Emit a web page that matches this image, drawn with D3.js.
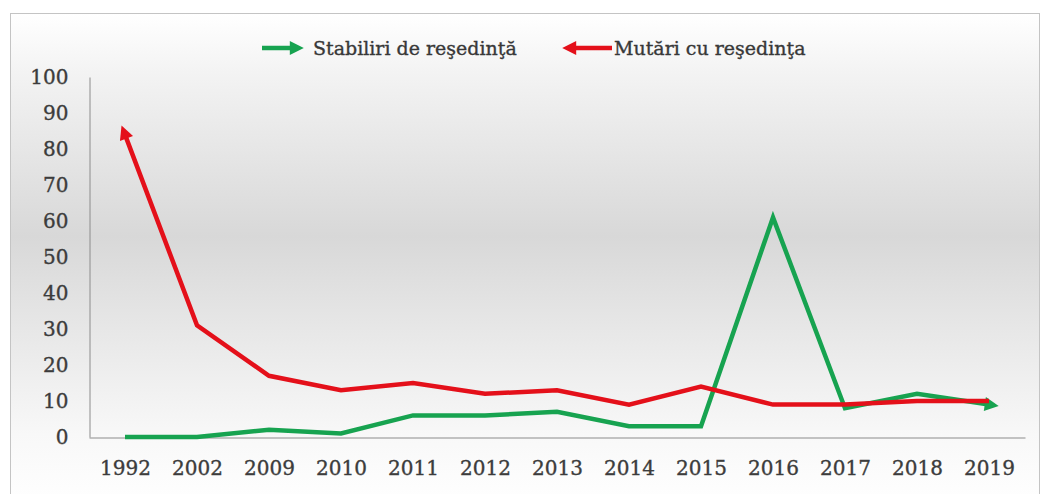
<!DOCTYPE html>
<html>
<head>
<meta charset="utf-8">
<script src="https://cdn.jsdelivr.net/npm/d3@7"></script>
<style>
  body { margin: 0; background: #fff; }
  .axis text { font-family: "DejaVu Serif", serif; fill: #3c3c3c; stroke: #3c3c3c; stroke-width: 0.35px; }
  .axis path { stroke: #8c8c8c; }
  .legend text { font-family: "DejaVu Serif", serif; fill: #383838; stroke: #383838; stroke-width: 0.35px; font-size: 19px; }
</style>
</head>
<body>
<script>
(function(){

    //chart data
    var years = ["1992", "2002", "2009", "2010", "2011", "2012", "2013", "2014", "2015", "2016", "2017", "2018", "2019"];
    var stabiliri = [0, 0, 2, 1, 6, 6, 7, 3, 3, 61, 8, 12, 9];
    var mutari = [84, 31, 17, 13, 15, 12, 13, 9, 14, 9, 9, 10, 10];
    var yTicks = [0, 10, 20, 30, 40, 50, 60, 70, 80, 90, 100];
    var seriesNames = ["Stabiliri de reşedinţă", "Mutări cu reşedinţa"];

    var width = 1043,
        height = 494,
        green = "#17a350",
        red = "#e4101a";

    var svg = d3.select("body")
        .append("svg")
        .attr("width", width)
        .attr("height", height);

    var defs = svg.append("defs");

    //background gradient of the chart area
    var grad = defs.append("linearGradient")
        .attr("id", "bg")
        .attr("x1", 0).attr("y1", 0)
        .attr("x2", 0).attr("y2", 1);
    [[0, "#ffffff"], [0.12, "#f3f3f3"], [0.45, "#d8d8d8"], [0.85, "#f8f8f8"], [1, "#ffffff"]].forEach(function(s){
        grad.append("stop").attr("offset", s[0]).attr("stop-color", s[1]);
    });

    //arrow markers
    function addMarker(id, color){
        defs.append("marker")
            .attr("id", id)
            .attr("viewBox", "0 0 10 10")
            .attr("refX", 3)
            .attr("refY", 5)
            .attr("markerUnits", "userSpaceOnUse")
            .attr("markerWidth", 15)
            .attr("markerHeight", 14)
            .attr("orient", "auto-start-reverse")
            .append("path")
            .attr("d", "M0,0 L10,5 L0,10 Z")
            .attr("fill", color);
    }
    addMarker("arrowGreen", green);
    addMarker("arrowRed", red);

    svg.append("rect")
        .attr("x", 10.5)
        .attr("y", 13.5)
        .attr("width", 1029)
        .attr("height", 495)
        .attr("fill", "url(#bg)")
        .attr("stroke", "#c4c4c4");

    //scales
    var x = d3.scalePoint()
        .domain(years)
        .range([89, 1025])
        .padding(0.5);

    var y = d3.scaleLinear()
        .domain([0, 100])
        .range([437, 77]);

    //axes
    var yAxis = d3.axisLeft(y)
        .tickValues(yTicks)
        .tickSize(0)
        .tickSizeOuter(0)
        .tickPadding(21);

    var gy = svg.append("g")
        .attr("class", "axis")
        .attr("transform", "translate(89.5,0)")
        .call(yAxis);
    gy.selectAll("text").style("font-size", "20px");

    var xAxis = d3.axisBottom(x)
        .tickSize(0)
        .tickSizeOuter(0)
        .tickPadding(23);

    var gx = svg.append("g")
        .attr("class", "axis")
        .attr("transform", "translate(0,437.5)")
        .call(xAxis);
    gx.selectAll("text").style("font-size", "20px");

    //lines
    var line = d3.line()
        .x(function(d, i){ return x(years[i]); })
        .y(function(d){ return y(d); });

    svg.append("path")
        .datum(stabiliri)
        .attr("d", line)
        .attr("fill", "none")
        .attr("stroke", green)
        .attr("stroke-width", 4.5)
        .attr("marker-end", "url(#arrowGreen)");

    svg.append("path")
        .datum(mutari)
        .attr("d", line)
        .attr("fill", "none")
        .attr("stroke", red)
        .attr("stroke-width", 4.5)
        .attr("marker-start", "url(#arrowRed)");

    //legend
    var legend = svg.append("g").attr("class", "legend");

    legend.append("line")
        .attr("x1", 262).attr("x2", 294)
        .attr("y1", 48).attr("y2", 48)
        .attr("stroke", green)
        .attr("stroke-width", 4.5)
        .attr("marker-end", "url(#arrowGreen)");
    legend.append("text")
        .attr("x", 313)
        .attr("y", 55)
        .text(seriesNames[0]);

    legend.append("line")
        .attr("x1", 572).attr("x2", 612)
        .attr("y1", 48).attr("y2", 48)
        .attr("stroke", red)
        .attr("stroke-width", 4.5)
        .attr("marker-start", "url(#arrowRed)");
    legend.append("text")
        .attr("x", 614)
        .attr("y", 55)
        .text(seriesNames[1]);

})();
</script>
</body>
</html>
